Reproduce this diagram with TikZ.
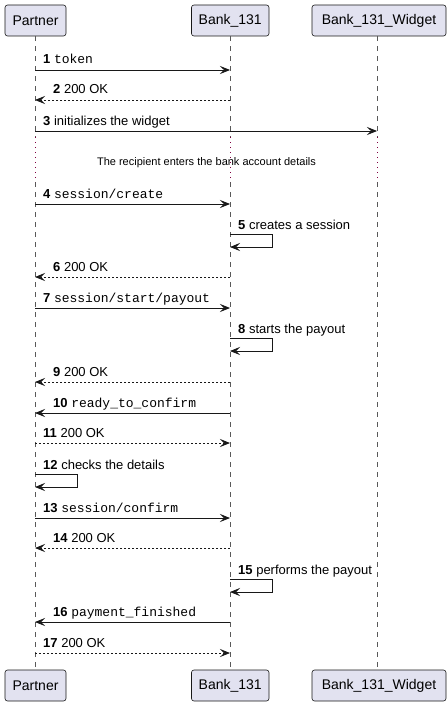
\documentclass[tikz,border=0pt]{standalone}
\usepackage{fontspec}
\setmainfont{Liberation Sans}
\setmonofont{Liberation Mono}
\usetikzlibrary{arrows.meta}
\definecolor{boxfill}{HTML}{E2E2F0}
\definecolor{boxline}{HTML}{181818}
\definecolor{delaycol}{HTML}{800040}
\begin{document}
\begin{tikzpicture}[x=1pt,y=-1pt,
  part/.style={draw=boxline, fill=boxfill, rounded corners=2.5pt, line width=0.6pt, minimum height=31pt, inner sep=0pt, font=\fontsize{14}{16}\selectfont},
  life/.style={draw=black!65, line width=0.6pt, dash pattern=on 5pt off 5pt},
  delayline/.style={draw=delaycol, line width=0.8pt, dash pattern=on 1pt off 4pt},
  msg/.style={draw=boxline, line width=0.8pt, -{Stealth[length=10pt,width=8pt,inset=4pt]}},
  reply/.style={msg, dash pattern=on 2pt off 2pt},
  lbl/.style={anchor=base west, inner sep=0pt, font=\fontsize{13}{15}\selectfont},
  dlbl/.style={anchor=base, inner sep=0pt, font=\fontsize{11}{13}\selectfont},
]
\useasboundingbox (0,0) rectangle (447,706);
% participants
\node[part, minimum width=61pt] (pt) at (35.5,20.5) {Partner};
\node[part, minimum width=77.5pt] (bt) at (230.25,20.5) {Bank\_131};
\node[part, minimum width=134pt] (wt) at (379,20.5) {Bank\_131\_Widget};
\node[part, minimum width=61pt] (pb) at (35.5,685.5) {Partner};
\node[part, minimum width=77.5pt] (bb) at (230.25,685.5) {Bank\_131};
\node[part, minimum width=134pt] (wb) at (379,685.5) {Bank\_131\_Widget};
% lifeline break points
\coordinate (pd1) at (35,137); \coordinate (pd2) at (35,182);
\coordinate (bd1) at (230,137); \coordinate (bd2) at (230,182);
\coordinate (wd1) at (377,137); \coordinate (wd2) at (377,182);
\draw[life] (pt.south -| pd1) -- (pd1);
\draw[life] (pd2) -- (pb.north -| pd2);
\draw[life] (bt.south -| bd1) -- (bd1);
\draw[life] (bd2) -- (bb.north -| bd2);
\draw[life] (wt.south -| wd1) -- (wd1);
\draw[life] (wd2) -- (wb.north -| wd2);
\draw[delayline] (pd1) -- (pd2);
\draw[delayline] (bd1) -- (bd2);
\draw[delayline] (wd1) -- (wd2);
\node[dlbl] (dtext) at (206.5,165) {The recipient enters the bank account details};
% message end points
\coordinate (p1) at (35,70);  \coordinate (b1) at (230,70);
\coordinate (p2) at (35,100); \coordinate (b2) at (230,100);
\coordinate (p3) at (35,131); \coordinate (w3) at (377,131);
\coordinate (p4) at (35,204); \coordinate (b4) at (230,204);
\coordinate (b5a) at (230,234); \coordinate (b5r) at (272,234); \coordinate (b5s) at (272,247); \coordinate (b5b) at (230,247);
\coordinate (p6) at (35,277); \coordinate (b6) at (230,277);
\coordinate (p7) at (35,308); \coordinate (b7) at (230,308);
\coordinate (b8a) at (230,338); \coordinate (b8r) at (272,338); \coordinate (b8s) at (272,351); \coordinate (b8b) at (230,351);
\coordinate (p9) at (35,382); \coordinate (b9) at (230,382);
\coordinate (p10) at (35,413); \coordinate (b10) at (230,413);
\coordinate (p11) at (35,443); \coordinate (b11) at (230,443);
\coordinate (p12a) at (35,474); \coordinate (p12r) at (77,474); \coordinate (p12s) at (77,487); \coordinate (p12b) at (35,487);
\coordinate (p13) at (35,518); \coordinate (b13) at (230,518);
\coordinate (p14) at (35,548); \coordinate (b14) at (230,548);
\coordinate (b15a) at (230,579); \coordinate (b15r) at (272,579); \coordinate (b15s) at (272,592); \coordinate (b15b) at (230,592);
\coordinate (p16) at (35,622); \coordinate (b16) at (230,622);
\coordinate (p17) at (35,653); \coordinate (b17) at (230,653);
% messages
\draw[msg] (p1) -- (b1);
\node[lbl] (l1) at (43,64) {\textbf{1} \texttt{token}};
\draw[reply] (b2) -- (p2);
\node[lbl] (l2) at (53,94) {\textbf{2} 200 OK};
\draw[msg] (p3) -- (w3);
\node[lbl] (l3) at (43,125) {\textbf{3} initializes the widget};
\draw[msg] (p4) -- (b4);
\node[lbl] (l4) at (43,198) {\textbf{4} \texttt{session/create}};
\draw[msg] (b5a) -- (b5r) -- (b5s) -- (b5b);
\node[lbl] (l5) at (238,229) {\textbf{5} creates a session};
\draw[reply] (b6) -- (p6);
\node[lbl] (l6) at (53,271) {\textbf{6} 200 OK};
\draw[msg] (p7) -- (b7);
\node[lbl] (l7) at (43,302) {\textbf{7} \texttt{session/start/payout}};
\draw[msg] (b8a) -- (b8r) -- (b8s) -- (b8b);
\node[lbl] (l8) at (238,333) {\textbf{8} starts the payout};
\draw[reply] (b9) -- (p9);
\node[lbl] (l9) at (53,376) {\textbf{9} 200 OK};
\draw[msg] (b10) -- (p10);
\node[lbl] (l10) at (53,407) {\textbf{10} \texttt{ready\_to\_confirm}};
\draw[reply] (p11) -- (b11);
\node[lbl] (l11) at (43,437) {\textbf{11} 200 OK};
\draw[msg] (p12a) -- (p12r) -- (p12s) -- (p12b);
\node[lbl] (l12) at (43,469) {\textbf{12} checks the details};
\draw[msg] (p13) -- (b13);
\node[lbl] (l13) at (43,512) {\textbf{13} \texttt{session/confirm}};
\draw[reply] (b14) -- (p14);
\node[lbl] (l14) at (53,542) {\textbf{14} 200 OK};
\draw[msg] (b15a) -- (b15r) -- (b15s) -- (b15b);
\node[lbl] (l15) at (238,574) {\textbf{15} performs the payout};
\draw[msg] (b16) -- (p16);
\node[lbl] (l16) at (53,616) {\textbf{16} \texttt{payment\_finished}};
\draw[reply] (p17) -- (b17);
\node[lbl] (l17) at (43,647) {\textbf{17} 200 OK};
\end{tikzpicture}
\end{document}
